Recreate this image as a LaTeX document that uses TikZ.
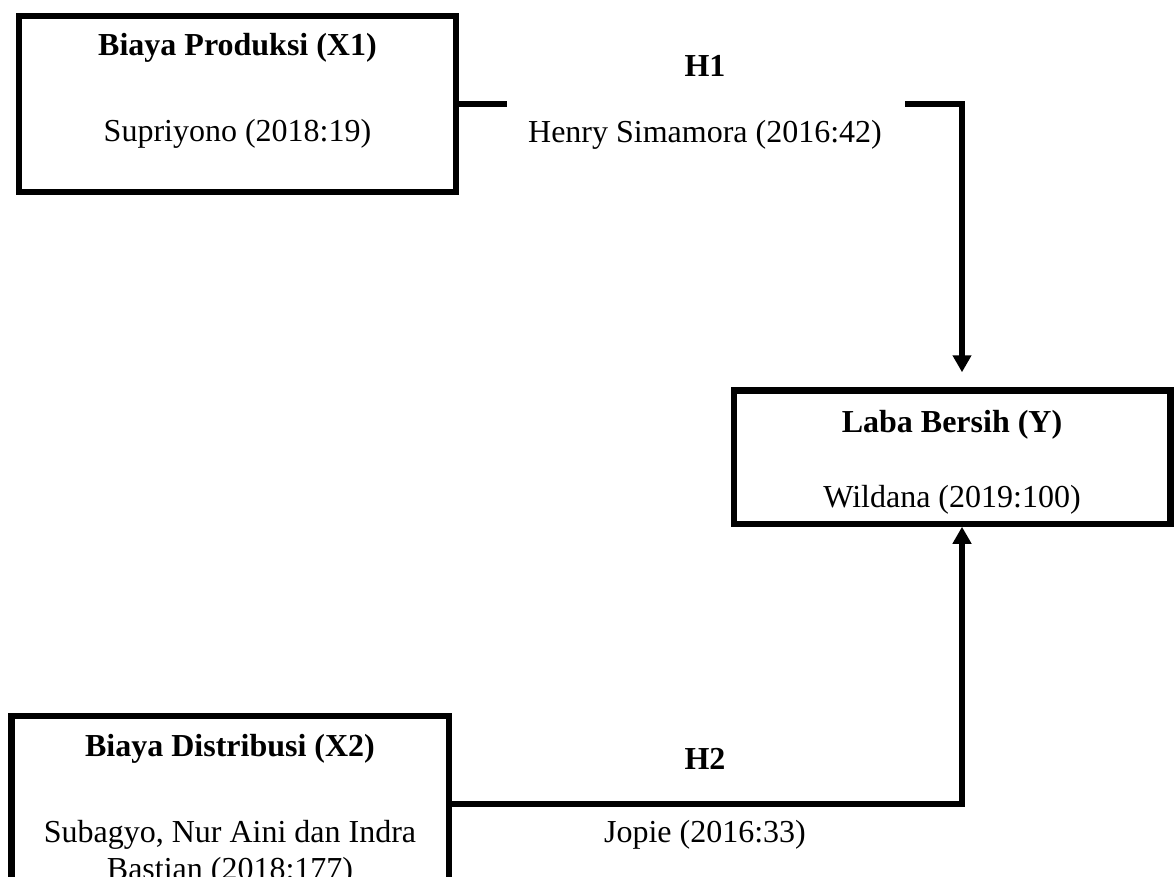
\documentclass[tikz,border=0pt]{standalone}
\usepackage{fontspec}
\setmainfont{Liberation Serif}
\usetikzlibrary{arrows.meta}
\begin{document}
\begin{tikzpicture}[x=1pt,y=-1pt,
  box/.style={draw, line width=6.5pt, minimum width=437pt, minimum height=176pt, inner sep=0pt, outer sep=0pt},
  conn/.style={line width=6pt},
  tipend/.style={-{Triangle[width=18pt,length=17pt]}},
  lbl/.style={anchor=base, inner sep=0pt, font=\fontsize{32}{37}\selectfont},
  ttl/.style={anchor=base, inner sep=0pt, font=\fontsize{32}{37}\selectfont\bfseries}]
\useasboundingbox (0,0) rectangle (1174,876);
\clip (0,0) rectangle (1174,876);
% boxes
\node[box] (x1) at (237.5,104) {};
\node[box, minimum width=436.5pt, minimum height=133.5pt] (ybox) at (952,457) {};
\node[box, minimum width=437.5pt] (x2) at (230,804) {};
% box texts
\node[ttl] (x1t) at (237.5,55) {Biaya Produksi (X1)};
\node[lbl] (x1c) at (237.5,141) {Supriyono (2018:19)};
\node[ttl] (yt) at (952,432) {Laba Bersih (Y)};
\node[lbl] (yc) at (952,507) {Wildana (2019:100)};
\node[ttl] (x2t) at (230,756) {Biaya Distribusi (X2)};
\node[lbl] (x2c) at (230,842) {Subagyo, Nur Aini dan Indra};
\node[lbl] (x2d) at (230,879) {Bastian (2018:177)};
% hypothesis labels
\node[ttl] (h1) at (705,76) {H1};
\node[lbl] (h1c) at (705,142) {Henry Simamora (2016:42)};
\node[ttl] (h2) at (705,769) {H2};
\node[lbl] (h2c) at (705,842) {Jopie (2016:33)};
% connectors
\coordinate (s1) at (507,104);
\coordinate (s2) at (905,104);
\coordinate (k1) at (962,104);
\draw[conn] (x1.east) -- (s1);
\draw[conn, tipend] (s2) -- (k1) -- ([yshift=18pt]ybox.north -| k1);
\draw[conn, tipend] (x2.east) -- (x2.east -| k1) -- ([yshift=-3pt]ybox.south -| k1);
\end{tikzpicture}
\end{document}
